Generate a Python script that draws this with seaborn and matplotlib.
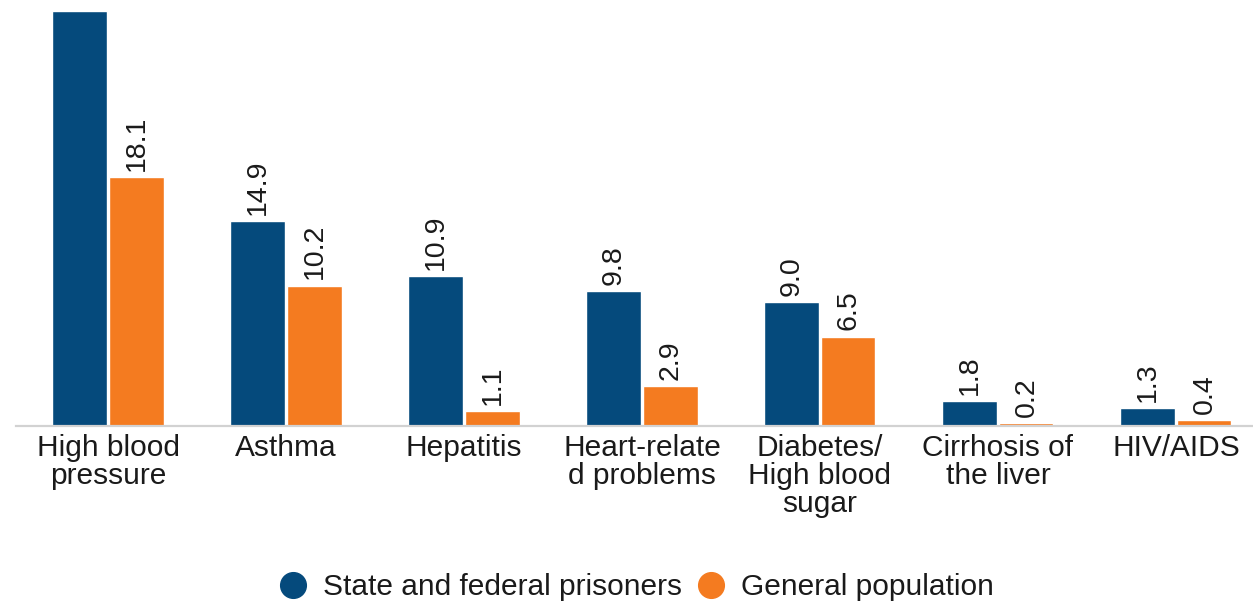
import matplotlib
matplotlib.use("Agg")
import matplotlib.pyplot as plt
from matplotlib.lines import Line2D
import seaborn as sns
import pandas as pd

# ---- data ----
categories = [
    "High blood\npressure",
    "Asthma",
    "Hepatitis",
    "Heart-relate\nd problems",
    "Diabetes/\nHigh blood\nsugar",
    "Cirrhosis of\nthe liver",
    "HIV/AIDS",
]
series_names = ["State and federal prisoners", "General population"]
prisoners = [30.2, 14.9, 10.9, 9.8, 9.0, 1.8, 1.3]
general = [18.1, 10.2, 1.1, 2.9, 6.5, 0.2, 0.4]

colors = {"State and federal prisoners": "#054a7c", "General population": "#f47b20"}

df = pd.DataFrame({
    "category": categories * 2,
    "group": [series_names[0]] * len(categories) + [series_names[1]] * len(categories),
    "value": prisoners + general,
})

sns.set_theme(style="white")
plt.rcParams["font.family"] = ["Liberation Sans", "DejaVu Sans"]
text_color = "#1a1a1a"

W, H = 1253, 602
fig = plt.figure(figsize=(W / 100, H / 100), dpi=100)
ax = fig.add_axes([16 / W, (H - 426) / H, (W - 16) / W, 426 / H])

sns.barplot(
    data=df, x="category", y="value", hue="group",
    order=categories, hue_order=series_names, palette=colors,
    width=0.64, gap=0.05, ax=ax, legend=False, saturation=1,
)

ymax = 30.98
for cont, vals in zip(ax.containers, [prisoners, general]):
    # the chart is cropped at the top: labels that would fall outside are not shown
    labels = [f"{v:.1f}" if v < ymax - 3 else "" for v in vals]
    ax.bar_label(cont, labels=labels, rotation=90, padding=4.5,
                 fontsize=20.5, color=text_color)

ax.set_xlim(-0.517, 6.433)
ax.set_ylim(0, ymax)
ax.set_xlabel("")
ax.set_ylabel("")
ax.set_yticks([])
for s in ["top", "right", "left"]:
    ax.spines[s].set_visible(False)
ax.spines["bottom"].set_color("#d2d2d2")
ax.spines["bottom"].set_linewidth(1.6)
ax.tick_params(axis="x", length=0, pad=6, labelsize=21.5, labelcolor=text_color)
for lbl in ax.get_xticklabels():
    lbl.set_linespacing(1.0)

handles = [
    Line2D([0], [0], marker="o", linestyle="none", markersize=18.5,
           markerfacecolor=colors[n], markeredgecolor=colors[n], label=n)
    for n in series_names
]
fig.legend(handles=handles, loc="center", bbox_to_anchor=(636 / W, 1 - 587 / H),
           ncol=2, frameon=False, fontsize=21.5, handlelength=1.0,
           handletextpad=0.5, columnspacing=0.5, labelcolor=text_color,
           borderpad=0, borderaxespad=0)

fig.savefig("out.png", dpi=100)
